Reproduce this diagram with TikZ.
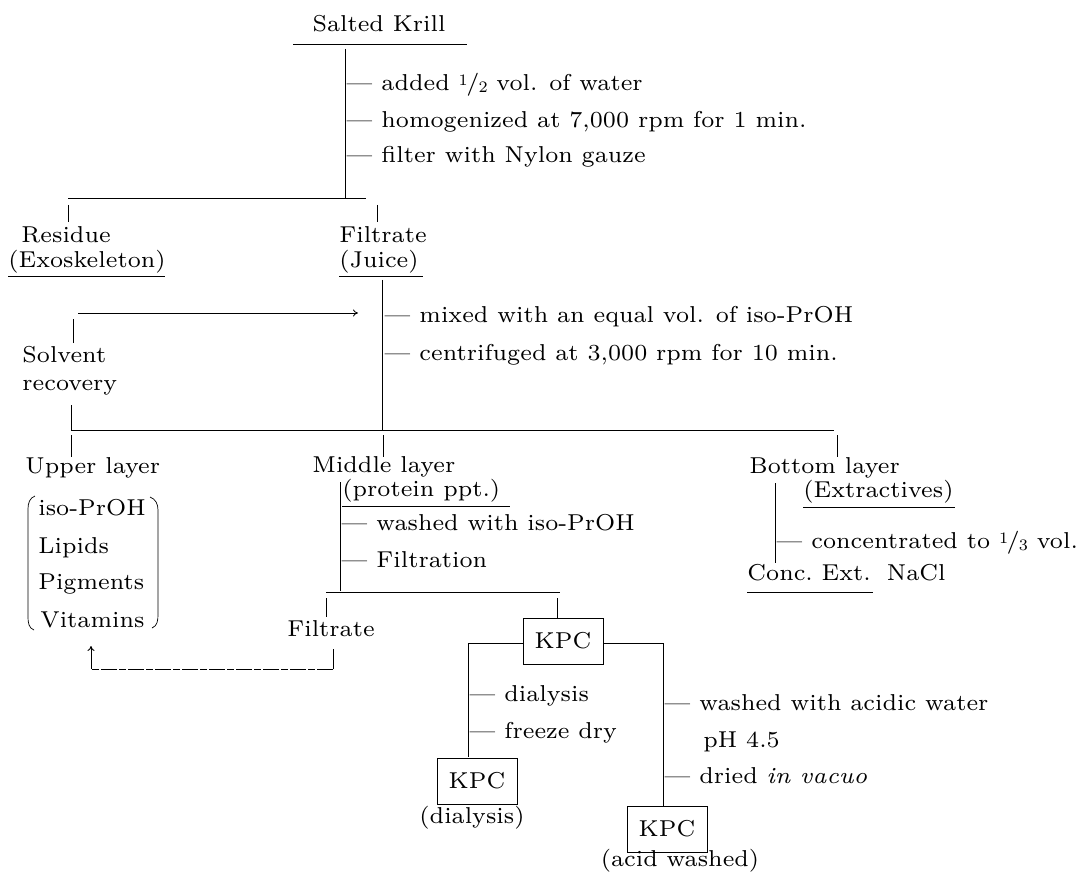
\documentclass[tikz,border=0pt]{standalone}
\usepackage{fontspec}
\setmainfont{lmroman7-regular}[Extension=.otf,ItalicFont=lmroman7-italic]
\usetikzlibrary{arrows.meta}
\newcommand\myfr[2]{\raisebox{0.45ex}{\fontsize{16}{16}\selectfont #1}\kern-0.06em/\kern-0.04em\raisebox{-0.25ex}{\fontsize{16}{16}\selectfont #2}}
\begin{document}
\begin{tikzpicture}[x=1pt,y=-1pt,line width=0.8pt,
  txt/.style={inner sep=0pt,anchor=mid west,font=\fontsize{23}{28}\selectfont},
  ctr/.style={txt,anchor=mid},
  kpcbox/.style={draw,line width=0.8pt,minimum width=80pt,minimum height=46pt,inner sep=0pt,font=\fontsize{23}{28}\selectfont},
  fb/.style={dash pattern=on 16pt off 2pt on 7pt off 2pt,line width=0.7pt},
  tip/.style={-{To[length=5pt,width=7pt]}}]
\useasboundingbox (0,0) rectangle (1079,877);

% --- top
\node[txt,anchor=base] (sk) at (379,32) {Salted Krill};
\draw (293,44) -- (467,44);
\coordinate (a0) at (345,49);
\coordinate (a1) at (345,198);
\draw (a0) -- (a1);
\node[txt] (s1) at (346,88) {\textemdash\ added \myfr12 vol. of water};
\node[txt] (s2) at (346,125) {\textemdash\ homogenized at 7,000 rpm for 1 min.};
\node[txt] (s3) at (346,160) {\textemdash\ filter with Nylon gauze};
\coordinate (h1l) at (68,198);
\coordinate (h1r) at (366,198);
\draw (h1l) -- (h1r);
\coordinate (r0) at (68,205); \coordinate (r1) at (68,222);
\coordinate (f0) at (377,205); \coordinate (f1) at (377,222);
\draw (r0) -- (r1);
\draw (f0) -- (f1);

% --- residue / filtrate
\node[txt] (res) at (21,240) {Residue};
\node[txt] (exo) at (8,265) {(Exoskeleton)};
\draw (8,276) -- (165,276);
\node[txt] (fil) at (339,240) {Filtrate};
\node[txt] (jui) at (339,265) {(Juice)};
\draw (339,276) -- (423,276);

% --- second trunk
\coordinate (b0) at (382,280);
\coordinate (b1) at (382,430);
\draw (b0) -- (b1);
\node[txt] (m1) at (384,320) {\textemdash\ mixed with an equal vol. of iso-PrOH};
\node[txt] (m2) at (384,358) {\textemdash\ centrifuged at 3,000 rpm for 10 min.};

% --- solvent recovery
\node[txt] (sol) at (22,360) {Solvent};
\node[txt] (rec) at (22,388) {recovery};
\coordinate (sv0) at (73,343); \coordinate (sv1) at (73,319);
\draw (sv0) -- (sv1);
\coordinate (ar0) at (78,313); \coordinate (ar1) at (358,313);
\draw[tip] (ar0) -- (ar1);
\coordinate (rv0) at (71,405); \coordinate (rv1) at (71,430);
\draw (rv0) -- (rv1);

% --- layer split
\coordinate (h2l) at (71,430); \coordinate (h2r) at (834,430);
\draw (h2l) -- (h2r);
\draw (71,435) -- (71,457);
\draw (383,435) -- (383,457);
\draw (837,435) -- (837,457);

% upper layer
\node[txt] (up) at (25,471) {Upper layer};
\node[txt] (u1) at (38,513) {iso-PrOH};
\node[txt] (u2) at (38,551) {Lipids};
\node[txt] (u3) at (38,587) {Pigments};
\node[txt] (u4) at (40,625) {Vitamins};
\draw[line width=0.7pt] (35,496) to[out=200,in=90] (28,509) -- (28,617) to[out=-90,in=160] (34,630);
\draw[line width=0.7pt] (150,497) to[out=-20,in=90] (158,510) -- (158,614) to[out=-90,in=20] (152,628);

% middle layer
\node[txt] (mid) at (312,470) {Middle layer};
\node[txt] (ppt) at (342,494) {(protein ppt.)};
\draw (342,506) -- (510,506);
\coordinate (c0) at (340,482); \coordinate (c1) at (340,591);
\draw (c0) -- (c1);
\node[txt] (w1) at (341,528) {\textemdash\ washed with iso-PrOH};
\node[txt] (w2) at (341,565) {\textemdash\ Filtration};
\coordinate (h3l) at (326,592); \coordinate (h3r) at (560,592);
\draw (h3l) -- (h3r);
\draw (326,598) -- (326,617);
\coordinate (k0) at (557,598);

% filtrate 2
\node[txt] (fil2) at (287,634) {Filtrate};
\coordinate (g0) at (333,649); \coordinate (g1) at (333,669);
\coordinate (g2) at (91,669); \coordinate (g3) at (91,646);
\draw (g0) -- (g1);
\draw[fb] (g1) -- (g2);
\draw[tip,line width=0.9pt] (g2) -- (g3);

% KPC
\node[kpcbox] (kpc) at (563,641) {KPC};
\draw (k0) -- (kpc.north -| k0);
\coordinate (dl) at (468,643); \coordinate (dr) at (663,643);
\coordinate (dl1) at (468,757); \coordinate (dr1) at (663,806);
\draw (kpc.west |- dl) -- (dl) -- (dl1);
\draw (kpc.east |- dr) -- (dr) -- (dr1);
\node[txt] (d1) at (469,699) {\textemdash\ dialysis};
\node[txt] (d2) at (469,736) {\textemdash\ freeze dry};
\node[kpcbox] (kpcd) at (477,781) {KPC};
\node[ctr] (dia) at (472,821) {(dialysis)};
\node[txt] (a1t) at (664,708) {\textemdash\ washed with acidic water};
\node[txt] (a2t) at (703,745) {pH 4.5};
\node[txt] (a3t) at (664,781) {\textemdash\ dried \textit{in vacuo}};
\node[kpcbox] (kpca) at (667,829) {KPC};
\node[ctr] (acw) at (680,864) {(acid washed)};

% bottom layer
\node[txt] (bot) at (749,471) {Bottom layer};
\node[txt] (ext) at (803,495) {(Extractives)};
\draw (803,507) -- (955,507);
\coordinate (e0) at (775,483); \coordinate (e1) at (775,563);
\draw (e0) -- (e1);
\node[txt] (cc) at (776,546) {\textemdash\ concentrated to \myfr13 vol.};
\node[txt] (ce) at (747,578) {Conc.~Ext.\hspace{0.7em}NaCl};
\draw (747,592) -- (873,592);
\end{tikzpicture}
\end{document}
